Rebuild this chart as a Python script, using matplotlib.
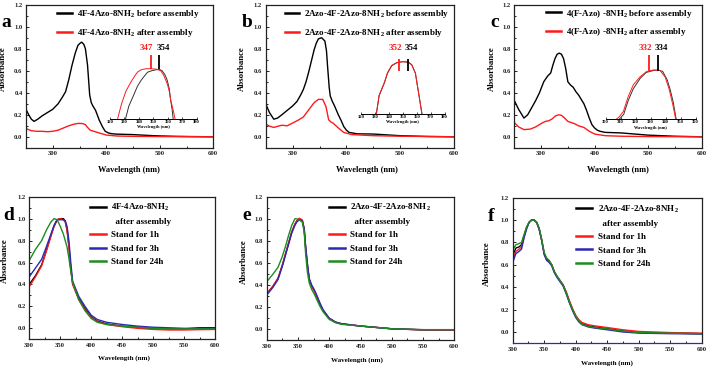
import matplotlib
matplotlib.use('Agg')
import matplotlib.pyplot as plt
from matplotlib.ticker import MultipleLocator, AutoMinorLocator

plt.rcParams['font.family'] = ['Liberation Serif', 'DejaVu Serif']
plt.rcParams['font.weight'] = 'bold'
plt.rcParams['mathtext.default'] = 'regular'

# ---------------- data ----------------
# panel a : 4F-4Azo-8NH2
a_before_wl = [250, 255, 260, 265, 272, 280, 290, 300, 310, 318, 324, 330, 336, 342, 347, 351, 354, 358, 361, 365, 369, 372, 375, 380, 387, 393, 398, 404, 410, 420, 450, 480, 500, 530, 560, 600]
a_before_ab = [0.25, 0.20, 0.16, 0.14, 0.16, 0.19, 0.22, 0.25, 0.30, 0.36, 0.41, 0.52, 0.65, 0.76, 0.83, 0.85, 0.86, 0.84, 0.80, 0.65, 0.38, 0.31, 0.28, 0.24, 0.15, 0.09, 0.05, 0.035, 0.028, 0.024, 0.02, 0.012, 0.008, 0.004, 0.002, 0.0]
a_after_wl = [250, 260, 270, 280, 290, 300, 310, 320, 330, 340, 348, 356, 361, 365, 370, 380, 390, 400, 420, 450, 500, 550, 600]
a_after_ab = [0.075, 0.055, 0.05, 0.05, 0.046, 0.05, 0.06, 0.08, 0.10, 0.115, 0.122, 0.12, 0.11, 0.085, 0.06, 0.045, 0.03, 0.016, 0.007, 0.004, 0.002, 0.001, 0.0]
a_in_before_wl = [330.8, 333, 336.8, 339, 341.6, 344, 346, 349, 352, 354, 356, 358, 359.6, 361, 362, 363, 363.7]
a_in_before_ab = [0.0, 0.25, 0.50, 0.65, 0.77, 0.86, 0.93, 0.96, 0.98, 0.99, 0.96, 0.88, 0.77, 0.6, 0.37, 0.18, 0.0]
a_in_after_wl = [325.3, 328, 331, 334.4, 337, 339, 341.6, 345, 348, 352, 355, 357, 359.6, 361, 362, 363.5, 365]
a_in_after_ab = [0.0, 0.3, 0.55, 0.73, 0.85, 0.93, 0.98, 1.0, 1.0, 0.99, 0.96, 0.88, 0.70, 0.55, 0.37, 0.2, 0.0]
a_peaks = [347, 354]
a_peak_pos = [348.2, 354.1]
a_peak_label_x = [345.4, 356.9]

# panel b : 2Azo-4F-2Azo-8NH2
b_before_wl = [250, 257, 265, 272, 280, 290, 300, 308, 315, 320, 325, 330, 335, 340, 344, 348, 354, 360, 363, 365, 368, 370, 374, 378, 385, 390, 395, 400, 405, 420, 450, 500, 550, 600]
b_before_ab = [0.30, 0.22, 0.16, 0.17, 0.20, 0.24, 0.28, 0.32, 0.38, 0.43, 0.50, 0.59, 0.69, 0.79, 0.85, 0.89, 0.90, 0.87, 0.78, 0.64, 0.45, 0.37, 0.32, 0.28, 0.20, 0.15, 0.094, 0.06, 0.04, 0.027, 0.025, 0.01, 0.003, 0.0]
b_after_wl = [250, 258, 265, 272, 280, 290, 300, 310, 320, 330, 340, 348, 356, 362, 367, 371, 375, 385, 395, 410, 450, 500, 600]
b_after_ab = [0.115, 0.095, 0.085, 0.095, 0.105, 0.10, 0.125, 0.15, 0.18, 0.245, 0.31, 0.34, 0.34, 0.275, 0.155, 0.135, 0.125, 0.08, 0.04, 0.02, 0.01, 0.005, 0.0]
b_in_wl = [331, 333, 336.7, 339, 342, 345.6, 350, 354, 356.4, 359, 361.3, 362.5, 363.7]
b_in_before_ab = [0.0, 0.35, 0.59, 0.78, 0.92, 0.98, 1.0, 0.99, 0.94, 0.78, 0.40, 0.2, 0.0]
b_in_after_ab = [0.0, 0.36, 0.60, 0.79, 0.93, 0.98, 1.0, 0.99, 0.94, 0.78, 0.40, 0.2, 0.0]
b_peaks = [352, 354]
b_peak_pos = [347.5, 354.0]
b_peak_label_x = [345.0, 356.4]

# panel c : 4(F-Azo)-8NH2
c_before_wl = [250, 258, 268, 275, 282, 290, 297, 305, 312, 318, 322, 326, 330, 334, 338, 342, 346, 350, 355, 360, 365, 370, 375, 380, 385, 390, 395, 400, 405, 410, 420, 450, 500, 550, 600]
c_before_ab = [0.33, 0.25, 0.17, 0.20, 0.26, 0.33, 0.40, 0.50, 0.55, 0.58, 0.65, 0.71, 0.75, 0.76, 0.75, 0.71, 0.62, 0.50, 0.47, 0.45, 0.41, 0.38, 0.34, 0.30, 0.24, 0.17, 0.11, 0.08, 0.06, 0.05, 0.04, 0.035, 0.015, 0.005, 0.0]
c_after_wl = [250, 258, 268, 280, 290, 300, 308, 314, 320, 327, 333, 338, 344, 350, 356, 362, 370, 380, 390, 400, 420, 450, 500, 600]
c_after_ab = [0.13, 0.09, 0.065, 0.07, 0.09, 0.12, 0.14, 0.145, 0.16, 0.19, 0.20, 0.195, 0.17, 0.14, 0.13, 0.12, 0.10, 0.085, 0.05, 0.025, 0.01, 0.005, 0.002, 0.0]
c_in_before_wl = [309, 312, 315, 318.4, 323, 327, 332, 335, 338, 341, 343, 345, 347]
c_in_before_ab = [0.0, 0.1, 0.38, 0.62, 0.83, 0.95, 0.99, 1.0, 0.97, 0.80, 0.6, 0.35, 0.0]
c_in_after_wl = [307, 309, 311.8, 315, 318.4, 322.9, 327.3, 331.8, 336.2, 339.6, 342.4, 345, 346.7]
c_in_after_ab = [0.0, 0.05, 0.16, 0.46, 0.70, 0.86, 0.97, 1.0, 0.99, 0.86, 0.60, 0.26, 0.0]
c_peaks = [332, 334]
c_peak_pos = [328.9, 334.9]
c_peak_label_x = [326.7, 337.3]

# panel d : 4F-4Azo-8NH2 standing
d_wl = [300, 310, 320, 328, 335, 340, 345, 350, 355, 358, 361, 364, 367, 370, 375, 380, 390, 400, 410, 425, 450, 475, 500, 525, 550, 575, 600]
d_black = [0.40, 0.48, 0.58, 0.72, 0.85, 0.93, 0.99, 1.0, 1.0, 0.98, 0.90, 0.75, 0.55, 0.41, 0.34, 0.27, 0.18, 0.105, 0.065, 0.04, 0.02, 0.01, 0.0, -0.005, -0.005, 0.005, 0.005]
d_red = [0.38, 0.47, 0.57, 0.71, 0.84, 0.93, 0.99, 1.0, 0.99, 0.97, 0.89, 0.74, 0.54, 0.40, 0.33, 0.26, 0.17, 0.10, 0.06, 0.035, 0.015, 0.0, -0.01, -0.015, -0.015, -0.012, -0.01]
d_blue = [0.47, 0.55, 0.63, 0.75, 0.86, 0.94, 0.99, 0.99, 0.99, 0.98, 0.93, 0.80, 0.60, 0.43, 0.36, 0.29, 0.20, 0.12, 0.08, 0.055, 0.035, 0.02, 0.01, 0.005, 0.0, 0.0, 0.0]
d_green = [0.62, 0.72, 0.80, 0.90, 0.97, 1.0, 0.99, 0.93, 0.86, 0.80, 0.74, 0.64, 0.52, 0.42, 0.34, 0.26, 0.16, 0.09, 0.055, 0.035, 0.02, 0.01, 0.0, -0.005, -0.005, -0.005, -0.005]

# panel e : 2Azo-4F-2Azo-8NH2 standing
e_wl = [300, 310, 318, 325, 330, 335, 340, 345, 348, 352, 357, 360, 362, 365, 368, 372, 376, 380, 385, 390, 400, 410, 420, 450, 500, 550, 600]
e_black = [0.32, 0.39, 0.46, 0.58, 0.68, 0.78, 0.88, 0.95, 0.98, 1.0, 0.98, 0.90, 0.75, 0.58, 0.45, 0.39, 0.35, 0.30, 0.23, 0.17, 0.10, 0.065, 0.05, 0.03, 0.005, -0.005, -0.005]
e_red = [0.32, 0.39, 0.46, 0.58, 0.68, 0.78, 0.88, 0.95, 0.98, 1.005, 0.99, 0.91, 0.76, 0.59, 0.45, 0.39, 0.35, 0.30, 0.23, 0.17, 0.10, 0.065, 0.05, 0.03, 0.005, -0.005, -0.008]
e_blue = [0.31, 0.38, 0.45, 0.57, 0.67, 0.77, 0.87, 0.94, 0.97, 0.99, 0.98, 0.91, 0.77, 0.60, 0.46, 0.40, 0.36, 0.31, 0.24, 0.18, 0.10, 0.065, 0.05, 0.03, 0.005, -0.003, -0.003]
e_green = [0.43, 0.50, 0.56, 0.66, 0.75, 0.85, 0.94, 1.0, 1.0, 0.99, 0.97, 0.88, 0.70, 0.52, 0.42, 0.36, 0.32, 0.27, 0.21, 0.16, 0.09, 0.06, 0.045, 0.03, 0.005, -0.003, -0.003]

# panel f : 2Azo-4F-2Azo-8NH2 standing
f_wl = [300, 305, 310, 314, 318, 322, 326, 330, 334, 338, 342, 346, 350, 354, 358, 362, 366, 370, 375, 380, 385, 390, 395, 400, 405, 410, 420, 430, 450, 475, 500, 550, 600]
f_black = [0.68, 0.75, 0.76, 0.78, 0.86, 0.93, 0.98, 1.0, 1.0, 0.98, 0.92, 0.82, 0.70, 0.65, 0.63, 0.60, 0.54, 0.50, 0.46, 0.42, 0.35, 0.27, 0.20, 0.14, 0.10, 0.075, 0.055, 0.045, 0.03, 0.01, -0.005, -0.01, -0.015]
f_red = [0.64, 0.72, 0.74, 0.76, 0.85, 0.93, 0.98, 1.0, 1.0, 0.98, 0.92, 0.82, 0.70, 0.64, 0.63, 0.60, 0.54, 0.50, 0.46, 0.42, 0.36, 0.28, 0.21, 0.15, 0.11, 0.085, 0.065, 0.055, 0.04, 0.02, 0.005, -0.005, -0.01]
f_blue = [0.62, 0.70, 0.72, 0.74, 0.84, 0.92, 0.98, 1.0, 1.0, 0.98, 0.92, 0.82, 0.69, 0.64, 0.62, 0.59, 0.53, 0.49, 0.45, 0.41, 0.34, 0.26, 0.19, 0.13, 0.09, 0.065, 0.045, 0.035, 0.02, 0.0, -0.01, -0.015, -0.018]
f_green = [0.73, 0.78, 0.79, 0.80, 0.87, 0.94, 0.98, 1.0, 1.0, 0.98, 0.93, 0.83, 0.71, 0.66, 0.64, 0.60, 0.54, 0.50, 0.46, 0.42, 0.35, 0.27, 0.20, 0.14, 0.10, 0.07, 0.05, 0.04, 0.028, 0.008, -0.005, -0.01, -0.015]

top_names = ['4F-4Azo-8NH$_\\mathregular{2}$', '2Azo-4F-2Azo-8NH$_\\mathregular{2}$', '4(F-Azo) -8NH$_\\mathregular{2}$']
bottom_names = ['4F-4Azo-8NH$_\\mathregular{2}$', '2Azo-4F-2Azo-8NH$_\\mathregular{2}$', '2Azo-4F-2Azo-8NH$_\\mathregular{2}$']
stand_labels = ['Stand for 1h', 'Stand for 3h', 'Stand for 24h']
panel_letters = ['a', 'b', 'c', 'd', 'e', 'f']

RED = '#ff1a1a'
BLUE = '#2a2ab4'
GREEN = '#1e8c1e'

# ---------------- layout ----------------
W, H = 709, 369
fig = plt.figure(figsize=(W / 100, H / 100), dpi=100)


def px_axes(l, t, r, b):
    return fig.add_axes([l / W, 1 - b / H, (r - l) / W, (b - t) / H])


def style_main(ax, xmin, xmax, xstep, labsize):
    ax.set_xlim(xmin, xmax)
    ax.set_ylim(-0.1, 1.2)
    ax.xaxis.set_major_locator(MultipleLocator(xstep))
    ax.xaxis.set_minor_locator(AutoMinorLocator(2))
    ax.yaxis.set_major_locator(MultipleLocator(0.2))
    ax.yaxis.set_minor_locator(AutoMinorLocator(2))
    ax.tick_params(which='both', direction='in', labelsize=4.8, width=0.7, colors='#222222')
    ax.tick_params(which='major', length=2.2)
    ax.tick_params(which='minor', length=1.2)
    ax.tick_params(axis='x', pad=2.5)
    ax.tick_params(axis='y', pad=2.5)
    ax.yaxis.set_major_formatter(matplotlib.ticker.FormatStrFormatter('%.1f'))
    for s in ax.spines.values():
        s.set_linewidth(0.9)
        s.set_color('#222222')
    ax.set_xlabel('Wavelength (nm)', fontsize=labsize, fontweight='bold', labelpad=1)
    ax.set_ylabel('Absorbance', fontsize=6.3, fontweight='bold', labelpad=1)


top_axes_px = [(26, 4.7, 213.3, 147.8), (265.7, 4.7, 454, 147.8), (514.3, 4.7, 701.7, 147.8)]
bot_axes_px = [(29.3, 196.7, 215, 339.3), (266.7, 196.7, 454.3, 340.4), (512.7, 197.7, 701.7, 343.2)]

top_data = [
    (a_before_wl, a_before_ab, a_after_wl, a_after_ab),
    (b_before_wl, b_before_ab, b_after_wl, b_after_ab),
    (c_before_wl, c_before_ab, c_after_wl, c_after_ab),
]
inset_data = [
    (a_in_before_wl, a_in_before_ab, a_in_after_wl, a_in_after_ab, a_peaks, a_peak_pos, a_peak_label_x, (320, 380)),
    (b_in_wl, b_in_before_ab, b_in_wl, b_in_after_ab, b_peaks, b_peak_pos, b_peak_label_x, (320, 380)),
    (c_in_before_wl, c_in_before_ab, c_in_after_wl, c_in_after_ab, c_peaks, c_peak_pos, c_peak_label_x, (300, 360)),
]
inset_px = [(110, 43.7, 196.7, 118.7), (361, 35.5, 444.7, 114), (605.7, 45.3, 695.7, 119.3)]
marker_span = [(0.99, 1.27), (0.83, 1.05), (0.97, 1.30)]
marker_label_y = [1.37, 1.22, 1.41]
legend_anchor_top = [(0.166, 0.975), (0.10, 0.975), (0.17, 0.98)]
xlab_coords_top = [(0.55, -0.125), (0.535, -0.125), (0.555, -0.125)]
ylab_x_top = [-0.10, -0.105, -0.10]

for i in range(3):
    ax = px_axes(*top_axes_px[i])
    bw, ba, aw, aa = top_data[i]
    ax.plot(bw, ba, color='black', lw=1.0, label=top_names[i] + ' before assembly')
    ax.plot(aw, aa, color=RED, lw=1.0, label=top_names[i] + ' after assembly')
    style_main(ax, 250, 600, 100, 6.0)
    ax.xaxis.set_label_coords(*xlab_coords_top[i])
    ax.yaxis.set_label_coords(ylab_x_top[i], 0.55)
    leg = ax.legend(loc='upper left', bbox_to_anchor=legend_anchor_top[i], frameon=False,
                    fontsize=6.5, handlelength=1.65, handletextpad=0.55, labelspacing=0.72,
                    borderpad=0, borderaxespad=0)
    for h in leg.get_lines():
        h.set_linewidth(1.8)

    # inset
    ib_w, ib_a, ia_w, ia_a, peaks, ppos, plx, xr = inset_data[i]
    ins = px_axes(*inset_px[i])
    ins.patch.set_alpha(0)
    ins.plot(ib_w, ib_a, color='#333333', lw=0.7)
    ins.plot(ia_w, ia_a, color=RED, lw=0.7)
    ins.set_xlim(*xr)
    ins.set_ylim(0, 1.5)
    ins.xaxis.set_major_locator(MultipleLocator(10))
    for side in ['left', 'right', 'top']:
        ins.spines[side].set_visible(False)
    ins.spines['bottom'].set_linewidth(0.7)
    ins.set_yticks([])
    ins.tick_params(axis='x', direction='in', length=1.2, width=0.5, labelsize=3.3, pad=0.8)
    ins.set_xlabel('Wavelength (nm)', fontsize=3.2, fontweight='bold', labelpad=0.8)
    # peak markers
    y0, y1 = marker_span[i]
    ins.vlines(ppos[0], y0, y1, color=RED, lw=1.3)
    ins.vlines(ppos[1], y0, y1, color='black', lw=1.3)
    ins.text(plx[0], marker_label_y[i], str(peaks[0]), color=RED, fontsize=6.4, fontweight='bold',
             ha='center', va='baseline')
    ins.text(plx[1], marker_label_y[i], str(peaks[1]), color='black', fontsize=6.4, fontweight='bold',
             ha='center', va='baseline')

bot_data = [
    (d_wl, d_black, d_red, d_blue, d_green),
    (e_wl, e_black, e_red, e_blue, e_green),
    (f_wl, f_black, f_red, f_blue, f_green),
]
legend_anchor_bot = [(0.325, 0.965), (0.33, 0.965), (0.335, 0.96)]
xlab_coords_bot = [(0.51, -0.115), (0.48, -0.115), (0.50, -0.12)]
ylab_x_bot = [-0.108, -0.10, -0.117]

for i in range(3):
    ax = px_axes(*bot_axes_px[i])
    wl, k, r, b, g = bot_data[i]
    ax.plot(wl, k, color='black', lw=1.0, label=bottom_names[i])
    ax.plot([], [], color='none', label='  after assembly')
    ax.plot(wl, r, color=RED, lw=1.0, label=stand_labels[0])
    ax.plot(wl, b, color=BLUE, lw=1.0, label=stand_labels[1])
    ax.plot(wl, g, color=GREEN, lw=1.0, label=stand_labels[2])
    style_main(ax, 300, 600, 50, 5.0)
    ax.xaxis.set_label_coords(*xlab_coords_bot[i])
    ax.yaxis.set_label_coords(ylab_x_bot[i], 0.55)
    leg = ax.legend(loc='upper left', bbox_to_anchor=legend_anchor_bot[i], frameon=False,
                    fontsize=6.5, handlelength=1.8, handletextpad=0.6, labelspacing=0.55,
                    borderpad=0, borderaxespad=0)
    for h in leg.get_lines():
        h.set_linewidth(1.8)
    if i == 2:
        ax.spines['bottom'].set_color(BLUE)

letter_pos = [(1.5, 27.3), (241.5, 27.3), (490, 27.3), (3, 220), (242, 220), (488, 221)]
for lt, (x, y) in zip(panel_letters, letter_pos):
    fig.text(x / W, 1 - y / H, lt, fontsize=14, fontweight='bold', ha='left', va='baseline')

fig.savefig('out.png', dpi=100)
